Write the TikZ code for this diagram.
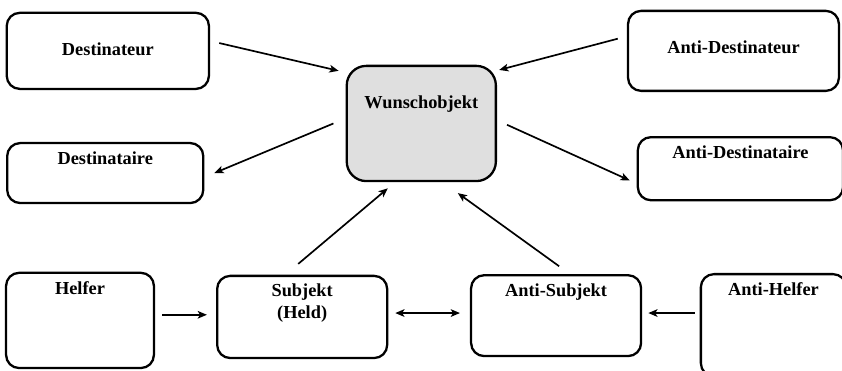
\documentclass[tikz,border=0pt]{standalone}
\usepackage{fontspec}
\setmainfont{Liberation Serif}
\usetikzlibrary{arrows.meta}
\tikzstyle{actant} = [rectangle, rounded corners=0.3cm, draw=black, line width=1.5pt, inner sep=0pt]
\tikzstyle{wish} = [actant, rounded corners=0.45cm, fill=gray!25]
\tikzstyle{toptext} = [anchor=north, inner sep=0pt, yshift=-0.21cm, align=center, font=\fontsize{12}{14}\selectfont\bfseries]
\tikzstyle{midtext} = [anchor=north, inner sep=0pt, yshift=-0.70cm, align=center, font=\fontsize{12}{14}\selectfont\bfseries]
\tikzstyle{arrow} = [line width=1.1pt, -{Stealth[length=6pt,width=5pt,inset=1.5pt]}]
\tikzstyle{twoway} = [line width=1.1pt, {Stealth[length=6pt,width=5pt,inset=1.5pt]}-{Stealth[length=6pt,width=5pt,inset=1.5pt]}]

\begin{document}
\begin{tikzpicture}

    \useasboundingbox (0,0) rectangle (19.366,-8.51);

    % Nodes
    \node (wunsch) [wish, minimum width=3.43cm, minimum height=2.65cm, label={[midtext]north:Wunschobjekt}] at (9.69,-2.84) {};
    \node (destinateur) [actant, minimum width=4.65cm, minimum height=1.75cm, label={[midtext]north:Destinateur}] at (2.48,-1.17) {};
    \node (destinataire) [actant, minimum width=4.51cm, minimum height=1.38cm, label={[toptext]north:Destinataire}] at (2.42,-3.98) {};
    \node (antidestinateur) [actant, minimum width=4.85cm, minimum height=1.84cm, label={[midtext]north:Anti-Destinateur}] at (16.87,-1.17) {};
    \node (antidestinataire) [actant, minimum width=4.72cm, minimum height=1.45cm, label={[toptext]north:Anti-Destinataire}] at (17.03,-3.88) {};
    \node (helfer) [actant, minimum width=3.40cm, minimum height=2.19cm, label={[toptext]north:Helfer}] at (1.84,-7.37) {};
    \node (subjekt) [actant, minimum width=3.91cm, minimum height=1.89cm, label={[toptext]north:Subjekt\\(Held)}] at (6.95,-7.29) {};
    \node (antisubjekt) [actant, minimum width=3.91cm, minimum height=1.86cm, label={[toptext]north:Anti-Subjekt}] at (12.79,-7.26) {};
    \node (antihelfer) [actant, minimum width=3.34cm, minimum height=2.35cm, label={[toptext]north:Anti-Helfer}] at (17.79,-7.48) {};

    % Arrows
    \draw [arrow] ([shift={(0.21,0.18)}]destinateur.east) -- ([shift={(-0.16,-0.14)}]wunsch.north west);
    \draw [arrow] ([xshift=-0.28cm]wunsch.west) -- ([xshift=0.23cm]destinataire.east);
    \draw [arrow] ([shift={(-0.21,0.28)}]antidestinateur.west) -- ([shift={(0.05,-0.12)}]wunsch.north east);
    \draw [arrow] ([shift={(0.23,-0.03)}]wunsch.east) -- ([shift={(-0.16,-0.27)}]antidestinataire.west);
    \draw [arrow] ([shift={(-0.09,0.25)}]subjekt.north) -- ([shift={(-0.77,-0.14)}]wunsch.south);
    \draw [arrow] ([shift={(0.07,0.18)}]antisubjekt.north) -- ([shift={(0.84,-0.25)}]wunsch.south);
    \draw [arrow] ([shift={(0.16,0.13)}]helfer.east) -- ([shift={(-0.21,0.05)}]subjekt.west);
    \draw [twoway] ([shift={(0.16,0.09)}]subjekt.east) -- ([shift={(-0.23,0.06)}]antisubjekt.west);
    \draw [arrow] ([shift={(-0.12,0.28)}]antihelfer.west) -- ([shift={(0.14,0.06)}]antisubjekt.east);

\end{tikzpicture}
\end{document}
